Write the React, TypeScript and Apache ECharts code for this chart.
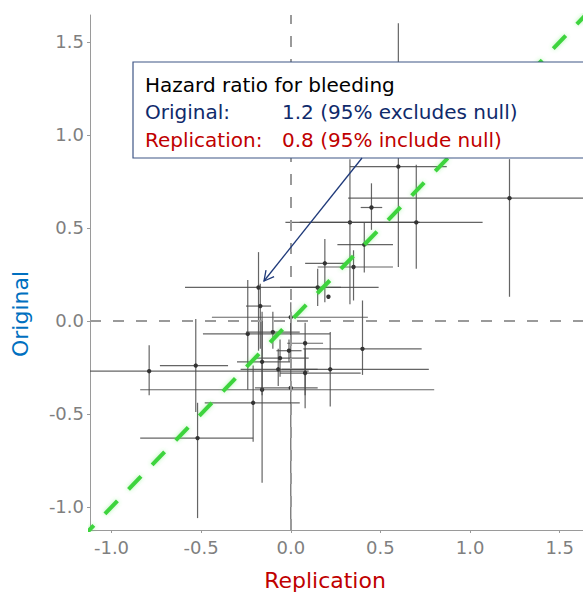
import React, { useEffect, useRef } from "react";
import * as echarts from "echarts";

// Replication estimate (x) and 95% interval
const replicationEst = [-0.79, -0.53, -0.52, -0.24, -0.21, -0.16, -0.18, -0.17, 0.0, 0.15, 0.21, 0.19, 0.35, 0.41, 0.33, 0.7, 0.45, 0.6, 1.22, 0.08, 0.4, 0.22, 0.0, 0.08, -0.07, -0.01, -0.06, -0.16, -0.1];
const replicationLo = [-1.5, -0.73, -0.84, -0.49, -0.48, -0.84, -0.59, -0.25, -0.44, -0.06, 0.21, 0.08, 0.15, 0.26, -0.03, 0.05, 0.39, 0.33, 0.32, -0.02, 0.07, -0.05, -0.2, -0.06, -0.28, -0.08, -0.2, -0.3, -0.25];
const replicationHi = [0.1, -0.35, -0.21, 0.22, 0.05, 0.8, 0.28, -0.11, 0.43, 0.49, 0.21, 0.31, 0.57, 0.57, 0.72, 1.07, 0.51, 0.87, 1.75, 0.18, 0.73, 0.77, 0.15, 0.39, 0.15, 0.06, 0.1, 0.0, 0.05];
// Original estimate (y) and 95% interval
const originalEst = [-0.27, -0.24, -0.63, -0.07, -0.44, -0.37, 0.18, 0.08, 0.02, 0.18, 0.13, 0.31, 0.29, 0.41, 0.53, 0.53, 0.61, 0.83, 0.66, -0.12, -0.15, -0.26, -0.36, -0.28, -0.26, -0.16, -0.2, -0.22, -0.06];
const originalLo = [-0.4, -0.49, -1.06, -0.37, -0.65, -0.87, -0.16, -0.15, -0.08, 0.08, 0.13, 0.1, 0.11, 0.26, 0.09, 0.28, 0.49, 0.29, 0.13, -0.47, -0.29, -0.46, -1.3, -0.4, -0.35, -0.22, -0.3, -0.4, -0.15];
const originalHi = [-0.13, 0.01, -0.44, 0.22, -0.24, 0.0, 0.37, 0.2, 0.1, 0.28, 0.13, 0.44, 0.38, 0.53, 0.87, 0.84, 0.74, 1.6, 0.87, -0.01, 0.11, -0.06, 0.02, -0.15, -0.15, -0.1, -0.1, 0.05, 0.05];

const tickValues = [-1.0, -0.5, 0.0, 0.5, 1.0, 1.5];
const identityLine = [-1.3, 1.8];

const xRange = [-1.12, 1.63];
const yRange = [-1.124, 1.645];

const FONT = "DejaVu Sans";

export default function App() {
  const ref = useRef<HTMLDivElement>(null);
  useEffect(() => {
    document.body.style.margin = "0";
    const chart = echarts.init(ref.current!, null, { renderer: "svg" });
    const data = replicationEst.map((x, i) => [
      x,
      originalEst[i],
      replicationLo[i],
      replicationHi[i],
      originalLo[i],
      originalHi[i],
    ]);

    // arrow geometry (annotation)
    const sx = 362, sy = 158, tx = 264, ty = 281;
    const dx = sx - tx, dy = sy - ty;
    const len = Math.hypot(dx, dy);
    const ux = dx / len, uy = dy / len;
    const ang = (28 * Math.PI) / 180;
    const al = 11;
    const rot = (a: number) => [
      tx + al * (ux * Math.cos(a) - uy * Math.sin(a)),
      ty + al * (ux * Math.sin(a) + uy * Math.cos(a)),
    ];
    const a1 = rot(ang), a2 = rot(-ang);

    chart.setOption({
      animation: false,
      backgroundColor: "#ffffff",
      grid: { left: 90, right: 0, top: 15, bottom: 63 },
      xAxis: {
        type: "value",
        min: xRange[0],
        max: xRange[1],
        axisLine: { show: true, onZero: false, lineStyle: { color: "#9a9a9a", width: 1 } },
        axisTick: { show: true, customValues: tickValues, length: 3, lineStyle: { color: "#9a9a9a" } },
        axisLabel: {
          customValues: tickValues,
          formatter: (v: number) => v.toFixed(1),
          color: "#7f7f7f",
          fontSize: 18,
          fontFamily: FONT,
          margin: 8,
        },
        splitLine: { show: false },
      },
      yAxis: {
        type: "value",
        min: yRange[0],
        max: yRange[1],
        axisLine: { show: true, onZero: false, lineStyle: { color: "#9a9a9a", width: 1 } },
        axisTick: { show: true, customValues: tickValues, length: 3, lineStyle: { color: "#9a9a9a" } },
        axisLabel: {
          customValues: tickValues,
          formatter: (v: number) => v.toFixed(1),
          color: "#7f7f7f",
          fontSize: 18,
          fontFamily: FONT,
          margin: 6,
        },
        splitLine: { show: false },
      },
      series: [
        {
          type: "line",
          data: [],
          z: 1,
          markLine: {
            silent: true,
            symbol: "none",
            label: { show: false },
            lineStyle: { color: "#9a9a9a", type: [11, 12], width: 2 },
            data: [{ xAxis: 0 }, { yAxis: 0 }],
          },
        },
        {
          type: "custom",
          z: 2,
          clip: true,
          data,
          renderItem: (params: any, api: any) => {
            const x = api.value(0), y = api.value(1);
            const c = api.coord([x, y]);
            const l = api.coord([api.value(2), y]);
            const r = api.coord([api.value(3), y]);
            const b = api.coord([x, api.value(4)]);
            const t = api.coord([x, api.value(5)]);
            const st = { stroke: "#4a4a4a", lineWidth: 1.2, opacity: 0.85 };
            return {
              type: "group",
              children: [
                { type: "line", shape: { x1: l[0], y1: l[1], x2: r[0], y2: r[1] }, style: st },
                { type: "line", shape: { x1: b[0], y1: b[1], x2: t[0], y2: t[1] }, style: st },
                { type: "circle", shape: { cx: c[0], cy: c[1], r: 2.2 }, style: { fill: "#333333" } },
              ],
            };
          },
        },
        {
          type: "line",
          z: 3,
          clip: true,
          symbol: "none",
          data: identityLine.map((v) => [v, v]),
          lineStyle: {
            color: "#3ed43e",
            width: 4,
            type: [18, 16],
            shadowBlur: 4,
            shadowColor: "rgba(80,230,80,0.45)",
          },
        },
      ],
      graphic: [
        {
          type: "text",
          x: 20,
          y: 314,
          rotation: Math.PI / 2,
          style: {
            text: "Original",
            fill: "#0070c0",
            font: `22px "${FONT}"`,
            align: "center",
            verticalAlign: "middle",
          },
        },
        {
          type: "text",
          x: 325,
          y: 580,
          style: {
            text: "Replication",
            fill: "#c00000",
            font: `22px "${FONT}"`,
            align: "center",
            verticalAlign: "middle",
          },
        },
        {
          type: "rect",
          z: 10,
          shape: { x: 133, y: 62, width: 470, height: 96 },
          style: { fill: "#ffffff", stroke: "#3f5686", lineWidth: 1.2 },
        },
        {
          type: "text",
          z: 11,
          x: 145,
          y: 85,
          style: { text: "Hazard ratio for bleeding", fill: "#000000", font: `20px "${FONT}"`, verticalAlign: "middle" },
        },
        {
          type: "text",
          z: 11,
          x: 145,
          y: 112,
          style: { text: "Original:", fill: "#0f2a6b", font: `20px "${FONT}"`, verticalAlign: "middle" },
        },
        {
          type: "text",
          z: 11,
          x: 282,
          y: 112,
          style: { text: "1.2 (95% excludes null)", fill: "#0f2a6b", font: `20px "${FONT}"`, verticalAlign: "middle" },
        },
        {
          type: "text",
          z: 11,
          x: 145,
          y: 140,
          style: { text: "Replication:", fill: "#c00000", font: `20px "${FONT}"`, verticalAlign: "middle" },
        },
        {
          type: "text",
          z: 11,
          x: 282,
          y: 140,
          style: { text: "0.8 (95% include null)", fill: "#c00000", font: `20px "${FONT}"`, verticalAlign: "middle" },
        },
        {
          type: "line",
          z: 11,
          shape: { x1: sx, y1: sy, x2: tx, y2: ty },
          style: { stroke: "#1f3a7a", lineWidth: 1.3 },
        },
        {
          type: "polyline",
          z: 11,
          shape: { points: [a1, [tx, ty], a2] },
          style: { stroke: "#1f3a7a", lineWidth: 1.3, fill: "none" },
        },
      ],
    });
    return () => chart.dispose();
  }, []);
  return <div ref={ref} style={{ position: "absolute", left: 0, top: 0, width: 583, height: 593 }} />;
}
